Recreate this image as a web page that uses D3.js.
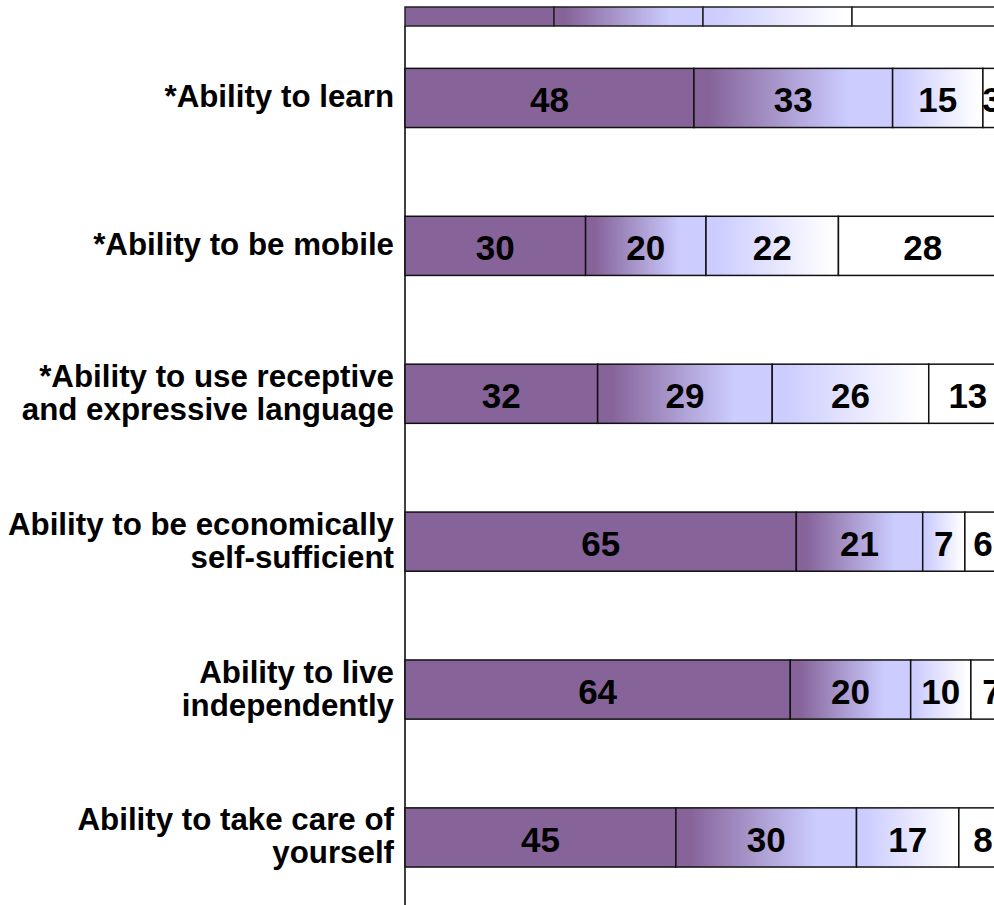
<!DOCTYPE html>
<html>
<head>
<meta charset="utf-8">
<script src="https://cdn.jsdelivr.net/npm/d3@7"></script>
<style>
  html, body { margin: 0; padding: 0; background: #fff; overflow: hidden; }
  svg { display: block; }
  text { font-family: "Liberation Sans", Arial, sans-serif; font-weight: bold; fill: #000; }
</style>
</head>
<body>
<svg id="chart" width="994" height="905"></svg>
<script>
// ---- data ----
const categories = [
  "*Ability to learn",
  "*Ability to be mobile",
  "*Ability to use receptive\nand expressive language",
  "Ability to be economically\nself-sufficient",
  "Ability to live\nindependently",
  "Ability to take care of\nyourself"
];
const seriesKeys = ["Level 1", "Level 2", "Level 3", "Level 4"];
const level1 = [48, 30, 32, 65, 64, 45];
const level2 = [33, 20, 29, 21, 20, 30];
const level3 = [15, 22, 26, 7, 10, 17];
const level4 = [3, 28, 13, 6, 7, 8];
const seriesValues = [level1, level2, level3, level4];

// ---- build table ----
const rows = categories.map((c, i) => {
  const r = { category: c };
  seriesKeys.forEach((k, j) => { r[k] = seriesValues[j][i]; });
  return r;
});

const svg = d3.select("#chart");
const purple = "#86649a";
const lavender = "#ccccff";

// gradients
const defs = svg.append("defs");
function grad(id, stops) {
  const g = defs.append("linearGradient").attr("id", id)
    .attr("x1", "0%").attr("x2", "100%").attr("y1", "0%").attr("y2", "0%");
  stops.forEach(s => g.append("stop").attr("offset", s[0]).attr("stop-color", s[1]));
}
grad("g1", [["0%", purple], ["8%", purple], ["78%", lavender], ["100%", lavender]]);
grad("g2", [["0%", lavender], ["8%", lavender], ["95%", "#ffffff"], ["100%", "#ffffff"]]);
const fills = [purple, "url(#g1)", "url(#g2)", "#ffffff"];

// scales
const x = d3.scaleLinear().domain([0, 100]).range([405, 1007]);
const y = d3.scaleBand().domain(categories).range([24, 911.4])
  .paddingInner(0.6).paddingOuter(0.3);
const legendX = d3.scaleBand().domain(seriesKeys).range([405, 1001]);

const stacked = d3.stack().keys(seriesKeys)(rows);

// legend swatches
svg.append("g").selectAll("rect").data(seriesKeys).join("rect")
  .attr("x", d => legendX(d)).attr("y", 7)
  .attr("width", legendX.bandwidth()).attr("height", 19)
  .attr("fill", (d, i) => fills[i])
  .attr("stroke", "#222").attr("stroke-width", 1.5);

// axis line
svg.append("line")
  .attr("x1", x(0)).attr("x2", x(0))
  .attr("y1", 26).attr("y2", 905)
  .attr("stroke", "#000").attr("stroke-width", 1.5);

// bars
const layers = svg.append("g").selectAll("g").data(stacked).join("g")
  .attr("fill", (d, i) => fills[i]);

layers.selectAll("rect").data(d => d).join("rect")
  .attr("x", d => x(d[0]))
  .attr("y", d => y(d.data.category))
  .attr("width", d => x(d[1]) - x(d[0]))
  .attr("height", y.bandwidth())
  .attr("stroke", "#111").attr("stroke-width", 1.5);

// value labels
layers.selectAll("text").data(d => d.map(v => ({ v, key: d.key }))).join("text")
  .attr("x", d => (x(d.v[0]) + x(d.v[1])) / 2)
  .attr("y", d => y(d.v.data.category) + y.bandwidth() / 2 + 14.5)
  .attr("text-anchor", "middle")
  .style("font-size", "35px")
  .text(d => d.v.data[d.key]);

// category labels
const lineH = 33;
svg.append("g").selectAll("text").data(categories).join("text")
  .attr("text-anchor", "end")
  .style("font-size", "31.3px")
  .each(function(c) {
    const lines = c.split("\n");
    const cy = y(c) + y.bandwidth() / 2;
    const base = cy + 9.5 - (lines.length - 1) * lineH / 2;
    d3.select(this).selectAll("tspan").data(lines).join("tspan")
      .attr("x", 394)
      .attr("y", (l, i) => base + i * lineH)
      .text(l => l);
  });
</script>
</body>
</html>
